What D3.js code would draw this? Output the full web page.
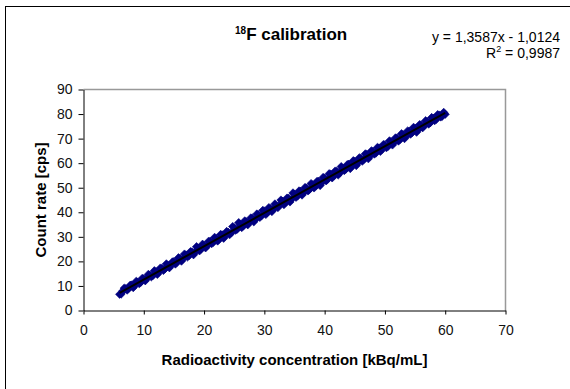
<!DOCTYPE html>
<html>
<head>
<meta charset="utf-8">
<script src="https://cdn.jsdelivr.net/npm/d3@7"></script>
<style>
  html, body { margin: 0; padding: 0; background: #fff; }
  svg { display: block; font-family: "Liberation Sans", Arial, sans-serif; }
</style>
</head>
<body>
<svg id="chart" width="570" height="389"></svg>
<script>
// Radioactivity concentration [kBq/mL]
const concentration = [
  6.0, 6.5, 7.0, 7.5, 8.0, 8.5, 9.0, 9.5, 10.0, 10.5,
  11.0, 11.5, 12.0, 12.5, 13.0, 13.5, 14.0, 14.5, 15.0, 15.5,
  16.0, 16.5, 17.0, 17.5, 18.0, 18.5, 19.0, 19.5, 20.0, 20.5,
  21.0, 21.5, 22.0, 22.5, 23.0, 23.5, 24.0, 24.5, 25.0, 25.5,
  26.0, 26.5, 27.0, 27.5, 28.0, 28.5, 29.0, 29.5, 30.0, 30.5,
  31.0, 31.5, 32.0, 32.5, 33.0, 33.5, 34.0, 34.5, 35.0, 35.5,
  36.0, 36.5, 37.0, 37.5, 38.0, 38.5, 39.0, 39.5, 40.0, 40.5,
  41.0, 41.5, 42.0, 42.5, 43.0, 43.5, 44.0, 44.5, 45.0, 45.5,
  46.0, 46.5, 47.0, 47.5, 48.0, 48.5, 49.0, 49.5, 50.0, 50.5,
  51.0, 51.5, 52.0, 52.5, 53.0, 53.5, 54.0, 54.5, 55.0, 55.5,
  56.0, 56.5, 57.0, 57.5, 58.0, 58.5, 59.0, 59.5, 60.0,
  6.25, 6.75, 7.25, 7.75, 8.25, 8.75, 9.25, 9.75, 10.25, 10.75,
  11.25, 11.75, 12.25, 12.75, 13.25, 13.75, 14.25, 14.75, 15.25, 15.75,
  16.25, 16.75, 17.25, 17.75, 18.25, 18.75, 19.25, 19.75, 20.25, 20.75,
  21.25, 21.75, 22.25, 22.75, 23.25, 23.75, 24.25, 24.75, 25.25, 25.75,
  26.25, 26.75, 27.25, 27.75, 28.25, 28.75, 29.25, 29.75, 30.25, 30.75,
  31.25, 31.75, 32.25, 32.75, 33.25, 33.75, 34.25, 34.75, 35.25, 35.75,
  36.25, 36.75, 37.25, 37.75, 38.25, 38.75, 39.25, 39.75, 40.25, 40.75,
  41.25, 41.75, 42.25, 42.75, 43.25, 43.75, 44.25, 44.75, 45.25, 45.75,
  46.25, 46.75, 47.25, 47.75, 48.25, 48.75, 49.25, 49.75, 50.25, 50.75,
  51.25, 51.75, 52.25, 52.75, 53.25, 53.75, 54.25, 54.75, 55.25, 55.75,
  56.25, 56.75, 57.25, 57.75, 58.25, 58.75, 59.25, 59.75
];
// Count rate [cps]
const countRate = [
  6.6, 7.9, 8.9, 9.0, 10.4, 10.2, 11.6, 11.5, 12.9, 13.0,
  14.4, 14.2, 15.8, 15.6, 17.2, 16.9, 18.4, 18.3, 19.9, 19.6,
  21.2, 21.0, 22.6, 22.3, 23.9, 23.7, 25.4, 25.0, 26.5, 26.3,
  28.2, 27.7, 29.3, 29.0, 30.8, 30.3, 31.9, 31.6, 33.7, 33.1,
  35.0, 34.4, 36.1, 35.9, 37.6, 37.1, 39.0, 38.5, 40.4, 39.9,
  41.5, 41.2, 42.6, 42.9, 44.5, 43.9, 45.8, 45.3, 47.4, 46.6,
  48.6, 47.9, 49.8, 49.3, 51.2, 50.7, 52.6, 52.0, 53.9, 53.4,
  55.5, 54.8, 56.7, 56.0, 57.9, 57.5, 59.6, 58.7, 60.7, 60.1,
  62.0, 61.5, 63.6, 62.8, 64.8, 64.1, 66.2, 65.6, 67.5, 66.8,
  68.7, 68.4, 70.2, 69.6, 71.6, 70.9, 73.0, 72.4, 74.2, 73.6,
  75.6, 75.2, 76.9, 76.4, 78.3, 77.8, 79.6, 79.1, 79.9,
  6.7, 9.1, 8.3, 10.3, 9.3, 11.9, 10.9, 13.1, 12.1, 14.7,
  13.7, 16.2, 14.7, 17.3, 16.3, 19.0, 17.4, 19.8, 18.9, 21.5,
  20.1, 23.0, 21.8, 24.0, 22.7, 26.0, 24.3, 27.0, 25.5, 28.2,
  27.2, 29.8, 28.3, 31.0, 29.4, 32.2, 30.9, 34.2, 32.7, 35.8,
  33.8, 36.5, 34.9, 37.7, 36.1, 39.3, 37.9, 40.8, 39.1, 41.9,
  40.3, 43.4, 41.9, 45.0, 43.1, 45.8, 44.2, 47.9, 46.1, 48.7,
  47.0, 50.1, 48.7, 51.7, 49.9, 52.6, 50.9, 54.2, 52.8, 55.7,
  54.0, 56.8, 55.2, 58.6, 57.0, 59.4, 57.8, 61.0, 59.0, 62.2,
  60.8, 63.8, 61.8, 65.0, 63.7, 66.4, 64.8, 67.6, 66.3, 69.1,
  67.4, 70.3, 69.0, 72.0, 70.0, 73.1, 71.8, 74.6, 72.6, 75.7,
  74.4, 77.3, 75.9, 78.6, 77.3, 79.8, 78.8, 80.7
];
// Linear trend line end points (x, y)
const trendX = [6.0, 60.0];
const trendY = [7.14, 80.51];

const xTicks = [0, 10, 20, 30, 40, 50, 60, 70];
const yTicks = [0, 10, 20, 30, 40, 50, 60, 70, 80, 90];

const titleSup = "18";
const titleMain = "F calibration";
const equationText = "y = 1,3587x - 1,0124";
const r2Value = " = 0,9987";
const xTitle = "Radioactivity concentration [kBq/mL]";
const yTitle = "Count rate [cps]";

const svg = d3.select("#chart");

// outer chart frame
svg.append("rect")
  .attr("x", 5.5).attr("y", 6.5)
  .attr("width", 620).attr("height", 420)
  .attr("fill", "#fff").attr("stroke", "#000").attr("stroke-width", 1);

const plot = { left: 83.5, right: 505.5, top: 89.5, bottom: 310.5 };

const x = d3.scaleLinear().domain([0, 70]).range([plot.left, plot.right]);
const y = d3.scaleLinear().domain([0, 90]).range([plot.bottom, plot.top]);

// plot area border (gray top & right)
svg.append("path")
  .attr("d", `M${plot.left},${plot.top}H${plot.right}V${plot.bottom}`)
  .attr("fill", "none").attr("stroke", "#999").attr("stroke-width", 1.5);

// axes
const xAxis = svg.append("g")
  .attr("transform", `translate(0,${plot.bottom})`)
  .call(d3.axisBottom(x).tickValues(xTicks).tickSize(4).tickSizeOuter(0).tickPadding(11));
const yAxis = svg.append("g")
  .attr("transform", `translate(${plot.left},0)`)
  .call(d3.axisLeft(y).tickValues(yTicks).tickSize(5).tickSizeOuter(0).tickPadding(6));

[xAxis, yAxis].forEach(g => {
  g.select(".domain").attr("stroke", "#000").attr("stroke-width", 1);
  g.selectAll(".tick line").attr("stroke", "#000");
  g.selectAll(".tick text")
    .attr("fill", "#111")
    .style("font-family", '"Liberation Sans", Arial, sans-serif')
    .style("font-size", "14px");
});

// data points (diamonds)
const pts = concentration.map((c, i) => ({ x: c, y: countRate[i] }));
const diamond = d3.symbol().type(d3.symbolSquare).size(34);
svg.append("g")
  .selectAll("path")
  .data(pts)
  .join("path")
  .attr("d", diamond)
  .attr("transform", d => `translate(${x(d.x)},${y(d.y)}) rotate(45)`)
  .attr("fill", "#000080")
  .attr("stroke", "#000080")
  .attr("stroke-width", 0.6);

// trend line
const trend = trendX.map((v, i) => [v, trendY[i]]);
svg.append("path")
  .datum(trend)
  .attr("d", d3.line().x(d => x(d[0])).y(d => y(d[1])))
  .attr("stroke", "#000").attr("stroke-width", 2).attr("fill", "none");

// title
const title = svg.append("text")
  .attr("x", 235).attr("y", 40)
  .attr("font-weight", "bold")
  .attr("fill", "#000");
title.append("tspan")
  .attr("font-size", "10px").attr("dy", "-6").text(titleSup);
title.append("tspan")
  .attr("font-size", "17px").attr("dy", "6").text(titleMain);

// regression equation
svg.append("text")
  .attr("x", 560).attr("y", 42)
  .attr("text-anchor", "end")
  .attr("font-size", "14px").attr("fill", "#000")
  .text(equationText);
const r2 = svg.append("text")
  .attr("x", 560).attr("y", 58)
  .attr("text-anchor", "end")
  .attr("font-size", "14px").attr("fill", "#000");
r2.append("tspan").text("R");
r2.append("tspan").attr("font-size", "9px").attr("dy", "-6").text("2");
r2.append("tspan").attr("dy", "6").text(r2Value);

// axis titles
svg.append("text")
  .attr("x", (plot.left + plot.right) / 2).attr("y", 365)
  .attr("text-anchor", "middle")
  .attr("font-size", "15px").attr("font-weight", "bold").attr("fill", "#000")
  .text(xTitle);
svg.append("text")
  .attr("transform", `translate(46,${(plot.top + plot.bottom) / 2}) rotate(-90)`)
  .attr("text-anchor", "middle")
  .attr("font-size", "15px").attr("font-weight", "bold").attr("fill", "#000")
  .text(yTitle);
</script>
</body>
</html>
